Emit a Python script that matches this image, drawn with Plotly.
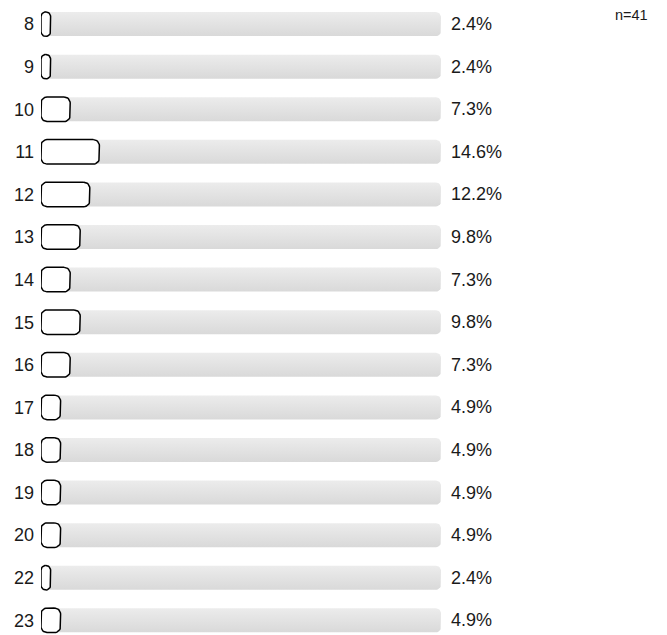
import math
import plotly.graph_objects as go

categories = ["8", "9", "10", "11", "12", "13", "14", "15", "16", "17", "18", "19", "20", "22", "23"]
percent_values = [2.4, 2.4, 7.3, 14.6, 12.2, 9.8, 7.3, 9.8, 7.3, 4.9, 4.9, 4.9, 4.9, 2.4, 4.9]
track_max = 100
n_label = "n=41"

FIG_W, FIG_H = 667, 635
M_L, M_R, M_T, M_B = 41, 226, 0, 0
Y_RANGE = [14.345, -0.566]
plot_w = FIG_W - M_L - M_R
plot_h = FIG_H - M_T - M_B
px_x = plot_w / track_max
px_y = plot_h / abs(Y_RANGE[0] - Y_RANGE[1])


def rounded_rect(x0, x1, yc, h_px, r_px, n=8):
    w_px = (x1 - x0) * px_x
    r = min(r_px, w_px / 2, h_px / 2)
    rx, ry = r / px_x, r / px_y
    hh = h_px / 2 / px_y
    ytop, ybot = yc - hh, yc + hh
    corners = [
        (x1 - rx, ytop + ry, -90, 0),
        (x1 - rx, ybot - ry, 0, 90),
        (x0 + rx, ybot - ry, 90, 180),
        (x0 + rx, ytop + ry, 180, 270),
    ]
    xs, ys = [], []
    for cx, cy, a0, a1 in corners:
        for k in range(n + 1):
            a = math.radians(a0 + (a1 - a0) * k / n)
            xs.append(cx + rx * math.cos(a))
            ys.append(cy + ry * math.sin(a))
    xs.append(xs[0])
    ys.append(ys[0])
    return xs, ys


fig = go.Figure()
font_fam = "Liberation Sans, Arial, sans-serif"

for i, cat in enumerate(categories):
    tx, ty = rounded_rect(0, track_max, i, 24, 5)
    fig.add_trace(go.Scatter(
        x=tx, y=ty, mode="lines", fill="toself",
        line=dict(width=0, color="rgba(0,0,0,0)"),
        fillgradient=dict(type="vertical",
                          colorscale=[[0, "#d9d9d9"], [1, "#ececec"]]),
        hoverinfo="skip", showlegend=False,
    ))

bx, by = [], []
for i, v in enumerate(percent_values):
    xs, ys = rounded_rect(0, v, i, 24.5, 6)
    bx += xs + [None]
    by += ys + [None]
fig.add_trace(go.Scatter(
    x=bx, y=by, mode="lines", fill="toself", fillcolor="white",
    line=dict(color="black", width=1.5),
    hoverinfo="skip", showlegend=False,
))

for i, v in enumerate(percent_values):
    fig.add_annotation(x=track_max, y=i, xref="x", yref="y", text=f"{v:.1f}%",
                       showarrow=False, xanchor="left", xshift=8,
                       font=dict(family=font_fam, size=18, color="#1a1a1a"))

fig.add_annotation(x=1, y=1, xref="paper", yref="paper", text=n_label,
                   showarrow=False, xanchor="left", yanchor="middle",
                   xshift=172, yshift=-15,
                   font=dict(family=font_fam, size=14.5, color="#1a1a1a"))

fig.update_layout(
    width=FIG_W, height=FIG_H,
    margin=dict(l=M_L, r=M_R, t=M_T, b=M_B),
    plot_bgcolor="white", paper_bgcolor="white",
    xaxis=dict(range=[0, track_max], visible=False, fixedrange=True),
    yaxis=dict(range=Y_RANGE, tickvals=list(range(len(categories))), ticktext=categories,
               showgrid=False, zeroline=False, showline=False, fixedrange=True,
               ticklabelstandoff=6,
               tickfont=dict(family=font_fam, size=18, color="#1a1a1a")),
    font=dict(family=font_fam),
)

fig.write_html("out.html", config={"displayModeBar": False},
               post_script="document.body.style.margin='0';document.body.style.overflow='hidden';")
